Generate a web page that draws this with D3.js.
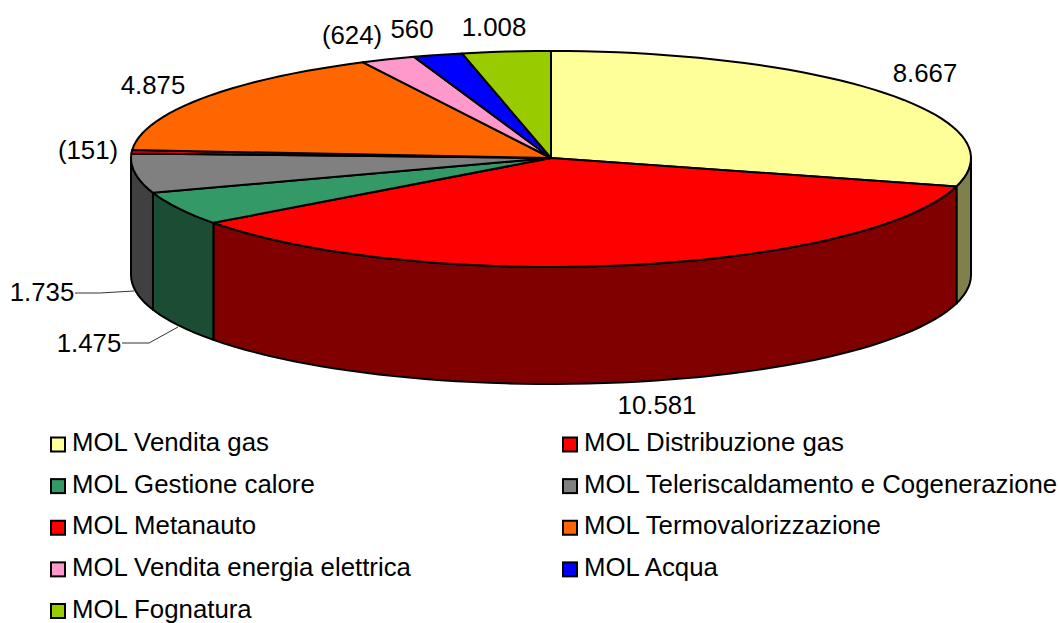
<!DOCTYPE html>
<html>
<head>
<meta charset="utf-8">
<script src="https://cdn.jsdelivr.net/npm/d3@7"></script>
<style>
  html, body { margin: 0; padding: 0; background: #fff; }
  text { font-family: "Liberation Sans", Arial, sans-serif; font-size: 25.8px; fill: #000; }
</style>
</head>
<body>
<div id="chart"></div>
<script>
// data
var categories = ['MOL Vendita gas', 'MOL Distribuzione gas', 'MOL Gestione calore',
  'MOL Teleriscaldamento e Cogenerazione', 'MOL Metanauto', 'MOL Termovalorizzazione',
  'MOL Vendita energia elettrica', 'MOL Acqua', 'MOL Fognatura'];
var values = [8667, 10581, 1475, 1735, -151, 4875, -624, 560, 1008];
var valueLabels = ['8.667', '10.581', '1.475', '1.735', '(151)', '4.875', '(624)', '560', '1.008'];
var topColors = ['#FFFF99', '#FF0000', '#339966', '#808080', '#FF0000', '#FF6600', '#FF99CC', '#0000FF', '#99CC00'];

// label anchors (middle of text, baseline)
var labelX = [925, 657, 89, 42, 88, 153, 352, 412, 494];
var labelY = [82, 414, 352, 301, 159, 94, 44, 38, 36];

var width = 1059, height = 623;
var depth = 117;

var svg = d3.select('#chart').append('svg')
  .attr('width', width)
  .attr('height', height);

// the pie is a unit circle, squashed by these two scales
// front half is a little deeper than the back half in the picture
var sx = d3.scaleLinear().domain([-1, 0, 1]).range([131, 551, 971]);
var sy = d3.scaleLinear().domain([-1, 0, 1]).range([267, 158, 51]);

var arcs = d3.pie().sort(null).value(function (d) { return Math.abs(d); })(values);

function rim(a0, a1, drop) {
  var n = Math.max(2, Math.ceil((a1 - a0) / 0.04));
  return d3.range(n + 1).map(function (i) {
    var a = a0 + (a1 - a0) * i / n;
    return [sx(Math.sin(a)), sy(Math.cos(a)) + drop];
  });
}
var line = d3.line();

// side walls, only the front half can be seen
var pi = Math.PI;
var walls = arcs.map(function (d, i) {
  return { a0: Math.max(d.startAngle, pi / 2), a1: Math.min(d.endAngle, 3 * pi / 2), i: i };
}).filter(function (w) { return w.a1 > w.a0; });

svg.selectAll('path.wall')
  .data(walls)
  .enter()
  .append('path')
  .attr('class', 'wall')
  .attr('d', function (w) {
    return line(rim(w.a0, w.a1, 0).concat(rim(w.a0, w.a1, depth).reverse())) + 'Z';
  })
  .attr('fill', function (w) {
    var c = d3.rgb(topColors[w.i]);
    return d3.rgb(c.r / 2, c.g / 2, c.b / 2);
  })
  .attr('stroke', '#000')
  .attr('stroke-width', 2)
  .attr('stroke-linejoin', 'round');

// top faces
svg.selectAll('path.slice')
  .data(arcs)
  .enter()
  .append('path')
  .attr('class', 'slice')
  .attr('d', function (d) {
    return line([[sx(0), sy(0)]].concat(rim(d.startAngle, d.endAngle, 0))) + 'Z';
  })
  .attr('fill', function (d, i) { return topColors[i]; })
  .attr('stroke', '#000')
  .attr('stroke-width', 2)
  .attr('stroke-linejoin', 'round');

// leader lines of the two small labels
var leaders = [
  [[75, 293], [100, 293], [134, 291]],
  [[122, 343], [149, 343], [178, 327]]
];
svg.selectAll('path.leader')
  .data(leaders)
  .enter()
  .append('path')
  .attr('class', 'leader')
  .attr('d', line)
  .attr('fill', 'none')
  .attr('stroke', '#333')
  .attr('stroke-width', 1);

svg.selectAll('text.value')
  .data(valueLabels)
  .enter()
  .append('text')
  .attr('class', 'value')
  .attr('x', function (d, i) { return labelX[i]; })
  .attr('y', function (d, i) { return labelY[i]; })
  .attr('text-anchor', 'middle')
  .text(function (d) { return d; });

// legend, two columns
var colX = d3.scaleOrdinal().domain([0, 1]).range([51, 563]);
var rowY = d3.scaleLinear().domain([0, 4]).range([444.5, 611]);

var legend = svg.selectAll('g.legend')
  .data(categories)
  .enter()
  .append('g')
  .attr('class', 'legend')
  .attr('transform', function (d, i) {
    return 'translate(' + colX(i % 2) + ',' + rowY(Math.floor(i / 2)) + ')';
  });

legend.append('rect')
  .attr('x', 0)
  .attr('y', -7)
  .attr('width', 14)
  .attr('height', 14)
  .attr('fill', function (d, i) { return topColors[i]; })
  .attr('stroke', '#000')
  .attr('stroke-width', 2);

legend.append('text')
  .attr('x', 21)
  .attr('y', 6.5)
  .text(function (d) { return d; });
</script>
</body>
</html>
